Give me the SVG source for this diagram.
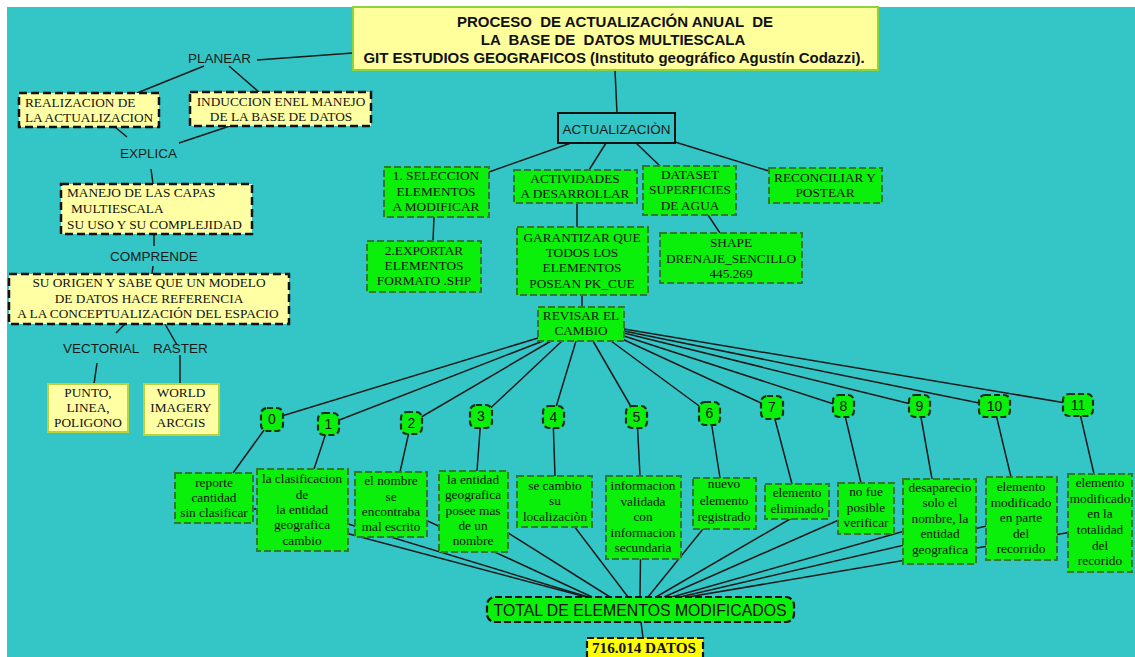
<svg xmlns="http://www.w3.org/2000/svg" width="1135" height="657" viewBox="0 0 1135 657">
<style>
.ln{stroke:#1a1a1a;stroke-width:1.5;fill:none}
.yb{fill:#FFFFA3;stroke:#111;stroke-width:2.5;stroke-dasharray:8 4}
.ys{fill:#FFFFA3;stroke:#B9D43A;stroke-width:2}
.gb{fill:#0AF00A;stroke:#2E7A2E;stroke-width:2;stroke-dasharray:7 3}
.bd{fill:#0AF00A;stroke:#1a301a;stroke-width:2.2;stroke-dasharray:6 3}
.sv{font-family:"Liberation Serif","Times New Roman",serif;font-size:13.3px;fill:#111}
.svc{font-family:"Liberation Serif","Times New Roman",serif;font-size:13.3px;fill:#111;text-anchor:middle}
.sn{font-family:"Liberation Sans",Arial,sans-serif;font-size:13.5px;fill:#1a1a1a}
.nm{font-family:"Liberation Sans",Arial,sans-serif;font-size:14px;fill:#111;text-anchor:middle}
.tt{font-family:"Liberation Sans",Arial,sans-serif;font-size:15px;font-weight:bold;fill:#111;text-anchor:middle;white-space:pre}
</style>
<rect x="0" y="0" width="1135" height="657" fill="#ffffff"/>
<rect x="7" y="7" width="1128" height="650" fill="#34C6C6"/>

<g id="connectors">
<line class="ln" x1="615" y1="70" x2="617" y2="113"/>
<line class="ln" x1="257" y1="60" x2="353" y2="53"/>
<line class="ln" x1="204" y1="66" x2="137" y2="93"/>
<line class="ln" x1="229" y1="66" x2="259" y2="92"/>
<line class="ln" x1="115" y1="127" x2="127" y2="137"/>
<line class="ln" x1="230" y1="126" x2="179" y2="143"/>
<line class="ln" x1="151" y1="169" x2="153" y2="184"/>
<line class="ln" x1="154" y1="234" x2="154" y2="246"/>
<line class="ln" x1="153" y1="266" x2="152" y2="274"/>
<line class="ln" x1="125" y1="324" x2="116" y2="333"/>
<line class="ln" x1="165" y1="324" x2="177" y2="345"/>
<line class="ln" x1="97" y1="363" x2="94" y2="384"/>
<line class="ln" x1="180" y1="355" x2="180" y2="384"/>
<line class="ln" x1="571" y1="143" x2="489" y2="172"/>
<line class="ln" x1="606" y1="143" x2="589" y2="170"/>
<line class="ln" x1="636" y1="143" x2="660" y2="166"/>
<line class="ln" x1="675" y1="142" x2="769" y2="171"/>
<line class="ln" x1="434" y1="217" x2="433" y2="241"/>
<line class="ln" x1="577" y1="203" x2="577" y2="227"/>
<line class="ln" x1="708" y1="215" x2="720" y2="233"/>
<line class="ln" x1="582" y1="295" x2="582" y2="307"/>
<line class="ln" x1="538" y1="338" x2="272" y2="419"/>
<line class="ln" x1="543" y1="341" x2="329" y2="424"/>
<line class="ln" x1="551" y1="341" x2="411" y2="423"/>
<line class="ln" x1="562" y1="341" x2="481" y2="417"/>
<line class="ln" x1="576" y1="341" x2="553" y2="417"/>
<line class="ln" x1="593" y1="341" x2="637" y2="417"/>
<line class="ln" x1="611" y1="341" x2="710" y2="414"/>
<line class="ln" x1="620" y1="338" x2="772" y2="408"/>
<line class="ln" x1="624" y1="336" x2="843" y2="407"/>
<line class="ln" x1="624" y1="333" x2="919" y2="406"/>
<line class="ln" x1="624" y1="331" x2="994" y2="406"/>
<line class="ln" x1="624" y1="329" x2="1078" y2="405"/>
<line class="ln" x1="272" y1="419" x2="233" y2="473"/>
<line class="ln" x1="329" y1="424" x2="314" y2="469"/>
<line class="ln" x1="411" y1="423" x2="400" y2="472"/>
<line class="ln" x1="481" y1="417" x2="477" y2="471"/>
<line class="ln" x1="553" y1="417" x2="555" y2="476"/>
<line class="ln" x1="637" y1="417" x2="640" y2="476"/>
<line class="ln" x1="710" y1="414" x2="720" y2="478"/>
<line class="ln" x1="772" y1="408" x2="792" y2="484"/>
<line class="ln" x1="843" y1="407" x2="861" y2="483"/>
<line class="ln" x1="919" y1="406" x2="932" y2="479"/>
<line class="ln" x1="994" y1="406" x2="1011" y2="477"/>
<line class="ln" x1="1078" y1="405" x2="1094" y2="474"/>
<line class="ln" x1="214" y1="498" x2="586" y2="597"/>
<line class="ln" x1="302" y1="510" x2="588" y2="597"/>
<line class="ln" x1="391" y1="504" x2="592" y2="597"/>
<line class="ln" x1="473" y1="511" x2="610" y2="597"/>
<line class="ln" x1="555" y1="501" x2="628" y2="597"/>
<line class="ln" x1="641" y1="520" x2="640" y2="597"/>
<line class="ln" x1="724" y1="503" x2="648" y2="597"/>
<line class="ln" x1="797" y1="515" x2="656" y2="597"/>
<line class="ln" x1="866" y1="508" x2="664" y2="597"/>
<line class="ln" x1="940" y1="521" x2="672" y2="597"/>
<line class="ln" x1="1021" y1="518" x2="680" y2="597"/>
<line class="ln" x1="1101" y1="527" x2="688" y2="597"/>
<line class="ln" x1="641" y1="622" x2="643" y2="638"/>
</g>

<g id="title">
<rect x="353" y="7" width="525" height="63" fill="#FFFF9C" stroke="#8CD43C" stroke-width="2"/>
<text class="tt" x="615" y="27">PROCESO  DE ACTUALIZACIÓN ANUAL  DE</text>
<text class="tt" x="613" y="45">LA  BASE DE  DATOS MULTIESCALA</text>
<text class="tt" x="614" y="63">GIT ESTUDIOS GEOGRAFICOS (Instituto geográfico Agustín Codazzi).</text>
</g>

<g id="planear"><text class="sn" x="188" y="63">PLANEAR</text></g>
<g id="realizacion">
<rect class="yb" x="19" y="93" width="140" height="34"/>
<text class="sv" x="25" y="107">REALIZACION DE</text>
<text class="sv" x="25" y="122">LA ACTUALIZACION</text>
</g>
<g id="induccion">
<rect class="yb" x="190" y="92" width="181" height="34"/>
<text class="svc" x="281" y="106">INDUCCION ENEL MANEJO</text>
<text class="svc" x="281" y="121">DE LA BASE DE DATOS</text>
</g>
<g id="explica"><text class="sn" x="120" y="158">EXPLICA</text></g>
<g id="manejo">
<rect class="yb" x="61" y="184" width="191" height="50"/>
<text class="sv" x="67" y="197">MANEJO DE LAS CAPAS</text>
<text class="sv" x="71" y="213">MULTIESCALA</text>
<text class="sv" x="67" y="229">SU USO Y SU COMPLEJIDAD</text>
</g>
<g id="comprende"><text class="sn" x="110" y="261">COMPRENDE</text></g>
<g id="origen">
<rect class="yb" x="9" y="274" width="280" height="50"/>
<text class="svc" x="149" y="287">SU ORIGEN Y SABE QUE UN MODELO</text>
<text class="svc" x="149" y="303">DE DATOS HACE REFERENCIA</text>
<text class="svc" x="148" y="318">A LA CONCEPTUALIZACIÓN DEL ESPACIO</text>
</g>
<g id="vectorial"><text class="sn" x="63" y="353">VECTORIAL</text></g>
<g id="raster"><text class="sn" x="153" y="353">RASTER</text></g>
<g id="punto">
<rect class="ys" x="48" y="384" width="80" height="48"/>
<text class="svc" x="88" y="397">PUNTO,</text>
<text class="svc" x="88" y="412">LINEA,</text>
<text class="svc" x="88" y="427">POLIGONO</text>
</g>
<g id="world">
<rect class="ys" x="144" y="384" width="75" height="51"/>
<text class="svc" x="181" y="397">WORLD</text>
<text class="svc" x="181" y="412">IMAGERY</text>
<text class="svc" x="181" y="427">ARCGIS</text>
</g>

<g id="actualizacion">
<rect x="558" y="113" width="117" height="30" fill="#34C6C6" stroke="#111" stroke-width="2"/>
<text class="sn" x="616.5" y="134" text-anchor="middle">ACTUALIZACIÒN</text>
</g>
<g id="seleccion">
<rect class="gb" x="384" y="167" width="105" height="50"/>
<text class="svc" x="436" y="180">1. SELECCION</text>
<text class="svc" x="436" y="196">ELEMENTOS</text>
<text class="svc" x="436" y="211">A MODIFICAR</text>
</g>
<g id="actividades">
<rect class="gb" x="514" y="170" width="123" height="33"/>
<text class="svc" x="575" y="183">ACTIVIDADES</text>
<text class="svc" x="575" y="198">A DESARROLLAR</text>
</g>
<g id="dataset">
<rect class="gb" x="643" y="166" width="93" height="49"/>
<text class="svc" x="690" y="179">DATASET</text>
<text class="svc" x="690" y="194">SUPERFICIES</text>
<text class="svc" x="690" y="210">DE AGUA</text>
</g>
<g id="reconciliar">
<rect class="gb" x="769" y="168" width="113" height="35"/>
<text class="svc" x="825" y="182">RECONCILIAR Y</text>
<text class="svc" x="825" y="197">POSTEAR</text>
</g>
<g id="exportar">
<rect class="gb" x="367" y="241" width="114" height="51"/>
<text class="svc" x="424" y="255">2.EXPORTAR</text>
<text class="svc" x="424" y="270">ELEMENTOS</text>
<text class="svc" x="424" y="285">FORMATO .SHP</text>
</g>
<g id="garantizar">
<rect class="gb" x="517" y="227" width="131" height="68"/>
<text class="svc" x="582" y="242">GARANTIZAR QUE</text>
<text class="svc" x="582" y="257">TODOS LOS</text>
<text class="svc" x="582" y="272">ELEMENTOS</text>
<text class="svc" x="582" y="288">POSEAN PK_CUE</text>
</g>
<g id="shape">
<rect class="gb" x="660" y="233" width="142" height="50"/>
<text class="svc" x="731" y="247">SHAPE</text>
<text class="svc" x="731" y="263" font-size="13">DRENAJE_SENCILLO</text>
<text class="svc" x="731" y="278">445.269</text>
</g>
<g id="revisar">
<rect class="gb" x="538" y="307" width="86" height="34"/>
<text class="svc" x="581" y="320">REVISAR EL</text>
<text class="svc" x="581" y="335">CAMBIO</text>
</g>

<g id="n0"><rect class="bd" x="261" y="408" width="22" height="23" rx="6"/><text class="nm" x="272" y="424">0</text></g>
<g id="n1"><rect class="bd" x="318" y="413" width="21" height="22" rx="6"/><text class="nm" x="328.5" y="429">1</text></g>
<g id="n2"><rect class="bd" x="401" y="412" width="21" height="22" rx="6"/><text class="nm" x="411.5" y="428">2</text></g>
<g id="n3"><rect class="bd" x="470" y="405" width="22" height="23" rx="6"/><text class="nm" x="481" y="421">3</text></g>
<g id="n4"><rect class="bd" x="543" y="406" width="21" height="22" rx="6"/><text class="nm" x="553.5" y="422">4</text></g>
<g id="n5"><rect class="bd" x="626" y="406" width="21" height="22" rx="6"/><text class="nm" x="636.5" y="422">5</text></g>
<g id="n6"><rect class="bd" x="699" y="402" width="21" height="23" rx="6"/><text class="nm" x="709.5" y="418">6</text></g>
<g id="n7"><rect class="bd" x="761" y="396" width="22" height="23" rx="6"/><text class="nm" x="772" y="412">7</text></g>
<g id="n8"><rect class="bd" x="833" y="395" width="21" height="22" rx="6"/><text class="nm" x="843.5" y="411">8</text></g>
<g id="n9"><rect class="bd" x="909" y="395" width="21" height="22" rx="6"/><text class="nm" x="919.5" y="411">9</text></g>
<g id="n10"><rect class="bd" x="979" y="395" width="31" height="22" rx="6"/><text class="nm" x="994.5" y="411">10</text></g>
<g id="n11"><rect class="bd" x="1063" y="394" width="30" height="22" rx="6"/><text class="nm" x="1078" y="410">11</text></g>

<g id="b0">
<rect class="gb" x="175" y="473" width="78" height="50"/>
<text class="svc" x="214" y="487">reporte</text>
<text class="svc" x="214" y="502">cantidad</text>
<text class="svc" x="214" y="517">sin clasificar</text>
</g>
<g id="b1">
<rect class="gb" x="257" y="469" width="91" height="82"/>
<text class="svc" x="302" y="483">la clasificacion</text>
<text class="svc" x="302" y="499">de</text>
<text class="svc" x="302" y="514">la entidad</text>
<text class="svc" x="302" y="529">geografica</text>
<text class="svc" x="302" y="545">cambio</text>
</g>
<g id="b2">
<rect class="gb" x="355" y="472" width="72" height="65"/>
<text class="svc" x="391" y="485">el nombre</text>
<text class="svc" x="391" y="501">se</text>
<text class="svc" x="391" y="516">encontraba</text>
<text class="svc" x="391" y="531">mal escrito</text>
</g>
<g id="b3">
<rect class="gb" x="439" y="471" width="69" height="81"/>
<text class="svc" x="473" y="484">la entidad</text>
<text class="svc" x="473" y="499">geografica</text>
<text class="svc" x="473" y="515">posee mas</text>
<text class="svc" x="473" y="530">de un</text>
<text class="svc" x="473" y="545">nombre</text>
</g>
<g id="b4">
<rect class="gb" x="517" y="476" width="75" height="51"/>
<text class="svc" x="555" y="490">se cambio</text>
<text class="svc" x="555" y="505">su</text>
<text class="svc" x="555" y="521">localizaciòn</text>
</g>
<g id="b5">
<rect class="gb" x="606" y="476" width="75" height="83"/>
<text class="svc" x="643" y="490">informacion</text>
<text class="svc" x="643" y="506">validada</text>
<text class="svc" x="643" y="521">con</text>
<text class="svc" x="643" y="537">informacion</text>
<text class="svc" x="643" y="552">secundaria</text>
</g>
<g id="b6">
<rect class="gb" x="693" y="478" width="63" height="51"/>
<text class="svc" x="724" y="488">nuevo</text>
<text class="svc" x="724" y="505">elemento</text>
<text class="svc" x="724" y="521">registrado</text>
</g>
<g id="b7">
<rect class="gb" x="765" y="484" width="64" height="35"/>
<text class="svc" x="797" y="497">elemento</text>
<text class="svc" x="797" y="513">eliminado</text>
</g>
<g id="b8">
<rect class="gb" x="838" y="483" width="56" height="51"/>
<text class="svc" x="866" y="496">no fue</text>
<text class="svc" x="866" y="512">posible</text>
<text class="svc" x="866" y="527">verificar</text>
</g>
<g id="b9">
<rect class="gb" x="903" y="479" width="73" height="85"/>
<text class="svc" x="940" y="492">desaparecio</text>
<text class="svc" x="940" y="507">solo el</text>
<text class="svc" x="940" y="523">nombre, la</text>
<text class="svc" x="940" y="538">entidad</text>
<text class="svc" x="940" y="554">geografica</text>
</g>
<g id="b10">
<rect class="gb" x="986" y="477" width="71" height="83"/>
<text class="svc" x="1021" y="491">elemento</text>
<text class="svc" x="1021" y="507">modificado</text>
<text class="svc" x="1021" y="522">en parte</text>
<text class="svc" x="1021" y="538">del</text>
<text class="svc" x="1021" y="553">recorrido</text>
</g>
<g id="b11">
<rect class="gb" x="1068" y="474" width="64" height="98"/>
<text class="svc" x="1100" y="487">elemento</text>
<text class="svc" x="1100" y="503">modificado</text>
<text class="svc" x="1100" y="518">en la</text>
<text class="svc" x="1100" y="534">totalidad</text>
<text class="svc" x="1100" y="550">del</text>
<text class="svc" x="1100" y="565">recorido</text>
</g>

<g id="total">
<rect x="487" y="597" width="307" height="25" rx="8" fill="#0AF00A" stroke="#111" stroke-width="2.2" stroke-dasharray="7 3"/>
<text x="640" y="615.5" font-family="Liberation Sans, Arial, sans-serif" font-size="16.5" fill="#111" text-anchor="middle" textLength="293" lengthAdjust="spacingAndGlyphs">TOTAL DE ELEMENTOS MODIFICADOS</text>
</g>
<g id="datos">
<rect x="587" y="638" width="116" height="24" fill="#FFFF00" stroke="#111" stroke-width="2.2" stroke-dasharray="7 3"/>
<text x="644" y="653" font-family="Liberation Serif, Times New Roman, serif" font-size="14.5" font-weight="bold" fill="#111" text-anchor="middle" textLength="104" lengthAdjust="spacingAndGlyphs">716.014 DATOS</text>
</g>
</svg>
